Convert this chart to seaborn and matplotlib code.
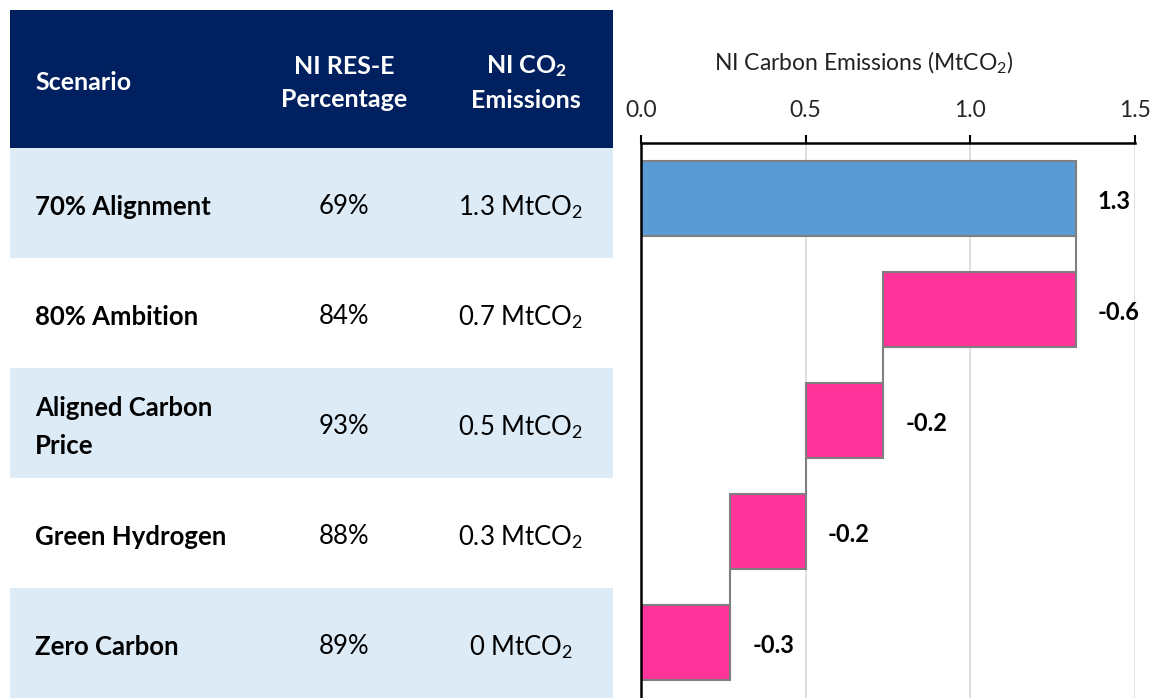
import matplotlib
matplotlib.use("Agg")
import matplotlib.pyplot as plt
import seaborn as sns
import pandas as pd
from matplotlib.patches import Rectangle

# ---------------- data ----------------
scenarios = ["70% Alignment", "80% Ambition", "Aligned Carbon\nPrice",
             "Green Hydrogen", "Zero Carbon"]
res_e_pct = [69, 84, 93, 88, 89]
co2_labels = ["1.3", "0.7", "0.5", "0.3", "0"]
emissions = [1.32, 0.735, 0.50, 0.27, 0.0]   # MtCO2 after each scenario
x_ticks = [0.0, 0.5, 1.0, 1.5]
header = ["Scenario", "NI RES-E\nPercentage", "NI CO$_\\mathbf{2}$", "Emissions"]

# waterfall spans
high = [emissions[0]] + emissions[:-1]
low = [0.0] + emissions[1:]
changes = [emissions[0]] + [emissions[i] - emissions[i - 1] for i in range(1, len(emissions))]

# ---------------- style ----------------
sns.set_theme(style="white")
plt.rcParams["font.family"] = ["Lato", "DejaVu Sans"]
plt.rcParams["mathtext.fontset"] = "custom"
plt.rcParams["mathtext.rm"] = "Lato"
plt.rcParams["mathtext.it"] = "Lato:italic"
plt.rcParams["mathtext.bf"] = "Lato:bold"

NAVY = "#002060"
LIGHT = "#DDEBF7"
BLUE = "#5B9BD5"
PINK = "#FF3399"
EDGE = "#7F7F7F"

W, H = 1157, 698
fig = plt.figure(figsize=(W / 100, H / 100), dpi=100)

# ---------------- table (pixel coordinates) ----------------
axt = fig.add_axes([0, 0, 1, 1], zorder=0)
axt.set_xlim(0, W)
axt.set_ylim(H, 0)
axt.axis("off")

axt.add_patch(Rectangle((10, 10), 603, 138, facecolor=NAVY, edgecolor="none"))
row_top = 148
row_h = 110
for i in range(len(scenarios)):
    y0 = row_top + i * row_h
    if i % 2 == 0:
        axt.add_patch(Rectangle((10, y0), 603, row_h, facecolor=LIGHT, edgecolor="none"))

hfs = 18
axt.text(35, 83, header[0], color="white", fontweight="bold", fontsize=hfs,
         ha="left", va="center")
axt.text(344, 83, header[1], color="white", fontweight="bold", fontsize=hfs,
         ha="center", va="center", linespacing=1.55)
axt.text(526, 66, header[2], color="white", fontweight="bold", fontsize=hfs,
         ha="center", va="center")
axt.text(526, 100, header[3], color="white", fontweight="bold", fontsize=hfs,
         ha="center", va="center")

rfs = 18.5
for i, (s, p, c) in enumerate(zip(scenarios, res_e_pct, co2_labels)):
    yc = row_top + i * row_h + row_h / 2 + 4
    axt.text(35, yc, s, fontweight="bold", fontsize=rfs, ha="left", va="center",
             color="black", linespacing=1.75)
    axt.text(344, yc, f"{p}%", fontsize=rfs, ha="center", va="center", color="black")
    axt.text(521, yc, f"{c} MtCO$_2$", fontsize=rfs, ha="center", va="center", color="black")

# ---------------- waterfall bars ----------------
ax = fig.add_axes([641 / W, 0, (1135 - 641) / W, (H - 143) / H], zorder=2)
df = pd.DataFrame({"scenario": scenarios, "high": high})
colors = [BLUE] + [PINK] * (len(scenarios) - 1)
bw = 0.67
sns.barplot(data=df, x="high", y="scenario", hue="scenario", palette=colors,
            orient="h", width=bw, saturation=1, legend=False, ax=ax,
            edgecolor=EDGE, linewidth=1.5)
for patch, lo, hi in zip(ax.patches, low, high):
    patch.set_x(lo)
    patch.set_width(hi - lo)

# connectors
for i in range(len(emissions) - 1):
    ax.plot([emissions[i], emissions[i]], [i + bw / 2, i + 1 - bw / 2],
            color=EDGE, lw=1.5, zorder=1)

# value labels
for i, (hi, ch) in enumerate(zip(high, changes)):
    ax.annotate(f"{ch:.1f}", xy=(hi, i + 0.03), xytext=(16, 0), textcoords="offset points",
                ha="left", va="center", fontweight="bold", fontsize=17, color="black")

ax.set_xlim(0, 1.5)
ax.set_ylim(len(scenarios) - 0.5, -0.5)
ax.set_xticks(x_ticks)
ax.set_xticklabels([f"{t:.1f}" for t in x_ticks])
ax.xaxis.tick_top()
ax.tick_params(axis="x", direction="out", length=6, width=1.5, color="black",
               labelsize=16.5, pad=10, top=True, bottom=False)
ax.set_yticks([])
ax.set_xlabel("")
ax.set_ylabel("")
ax.grid(axis="x", color="#D9D9D9", lw=1.2)
ax.grid(axis="y", visible=False)
ax.set_axisbelow(True)
for side in ["right", "bottom"]:
    ax.spines[side].set_visible(False)
for side in ["top", "left"]:
    ax.spines[side].set_visible(True)
    ax.spines[side].set_color("black")
    ax.spines[side].set_linewidth(1.8)

fig.text(864 / W, 1 - 63 / H, "NI Carbon Emissions (MtCO$_2$)", ha="center",
         va="center", fontsize=16.5, color="#222222")

fig.savefig("out.png", dpi=100)
